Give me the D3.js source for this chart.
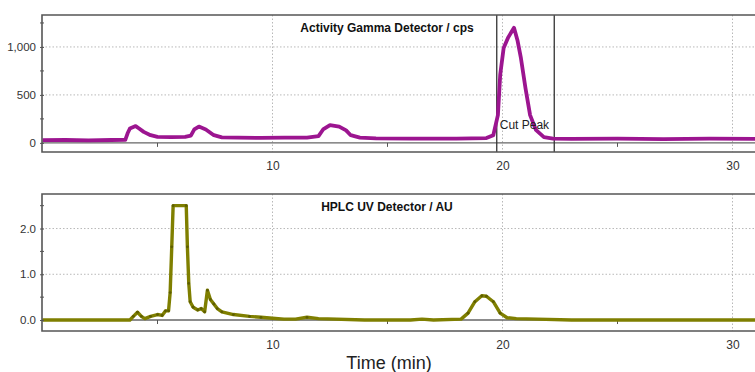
<!DOCTYPE html>
<html>
<head>
<meta charset="utf-8">
<script src="https://cdn.jsdelivr.net/npm/d3@7"></script>
<style>
  body { margin: 0; background: #fff; }
  svg { display: block; font-family: "Liberation Sans", Arial, sans-serif; }
</style>
</head>
<body>
<svg id="chart" width="755" height="372"></svg>
<script>
// time axis (min)
var xTicks = [10, 20, 30];
var xMinor = [5, 15, 25];

// gamma detector trace (cps)
var gammaTime = [0, 1, 2, 3, 3.6, 3.7, 3.8, 4.05, 4.2, 4.4, 4.7, 5.0, 5.6, 6.2, 6.45, 6.6, 6.8, 7.1, 7.45, 7.8, 8.5, 9.5, 10.5, 11.5, 12.0, 12.2, 12.5, 12.9, 13.2, 13.4, 13.8, 14.5, 16, 18, 19.3, 19.6, 19.8, 19.9, 20.05, 20.25, 20.5, 20.65, 20.8, 21.0, 21.2, 21.45, 21.8, 22.2, 23, 25, 27, 29, 31, 32];
var gammaCps  = [28, 30, 27, 30, 32, 100, 150, 175, 150, 115, 80, 62, 60, 62, 75, 140, 170, 140, 80, 58, 55, 52, 55, 55, 70, 140, 185, 170, 130, 80, 55, 48, 45, 45, 50, 80, 290, 710, 990, 1100, 1200, 1070, 885, 570, 290, 135, 60, 45, 42, 45, 40, 45, 42, 45];

// UV detector trace (AU)
var uvTime = [0, 2, 3.8, 3.95, 4.13, 4.3, 4.45, 4.7, 5.0, 5.2, 5.35, 5.48, 5.55, 5.62, 5.68, 6.25, 6.3, 6.36, 6.42, 6.55, 6.75, 6.9, 7.05, 7.17, 7.3, 7.45, 7.6, 7.8, 8.3, 9.0, 9.5, 10.0, 10.5, 11.0, 11.5, 12.0, 14, 16, 16.5, 17, 18.2, 18.5, 18.8, 19.1, 19.3, 19.6, 19.9, 20.2, 20.6, 21.5, 23, 26, 29, 32];
var uvAU   = [0, 0, 0, 0.08, 0.17, 0.08, 0.03, 0.08, 0.12, 0.1, 0.2, 0.2, 0.6, 1.6, 2.5, 2.5, 1.6, 0.8, 0.4, 0.28, 0.22, 0.25, 0.18, 0.65, 0.45, 0.35, 0.25, 0.18, 0.12, 0.08, 0.06, 0.04, 0.02, 0.02, 0.06, 0.03, 0.0, 0.0, 0.02, 0.0, 0.02, 0.15, 0.4, 0.53, 0.52, 0.4, 0.15, 0.05, 0.03, 0.02, 0.0, 0.0, 0.0, 0.0];

// cut peak window (min)
var cutStart = 19.75, cutEnd = 22.25;

var svg = d3.select("#chart");
var x = d3.scaleLinear().domain([0, 31.5]).range([42.5, 767]);

var panels = [
  { title: "Activity Gamma Detector / cps", top: 15, bottom: 152, domain: [-95, 1333],
    ticks: [0, 500, 1000], minor: [250, 750, 1250], fmt: d3.format(","), color: "#9c1590", width: 3.8,
    time: gammaTime, vals: gammaCps, titleY: 32, cut: true },
  { title: "HPLC UV Detector / AU", top: 194, bottom: 331, domain: [-0.24, 2.755],
    ticks: [0, 1, 2], minor: [0.5, 1.5, 2.5], fmt: d3.format(".1f"), color: "#7f7f00", width: 3.4,
    time: uvTime, vals: uvAU, titleY: 211, cut: false }
];

panels.forEach(function(p, i) {
  var y = d3.scaleLinear().domain(p.domain).range([p.bottom, p.top]);
  var g = svg.append("g");
  var clipId = "clip" + i;
  g.append("clipPath").attr("id", clipId).append("rect")
    .attr("x", 42).attr("y", p.top).attr("width", 760).attr("height", p.bottom - p.top);

  // dotted grid
  g.selectAll(".hgrid").data(p.ticks.filter(function(d) { return d !== 0; }))
    .enter().append("line")
    .attr("x1", 42).attr("x2", 755)
    .attr("y1", function(d) { return y(d); }).attr("y2", function(d) { return y(d); })
    .attr("stroke", "#b8b8b8").attr("stroke-width", 1).attr("stroke-dasharray", "1.5,2");
  g.selectAll(".vgrid").data(xTicks).enter().append("line")
    .attr("x1", function(d) { return x(d); }).attr("x2", function(d) { return x(d); })
    .attr("y1", p.top).attr("y2", p.bottom)
    .attr("stroke", "#b8b8b8").attr("stroke-width", 1).attr("stroke-dasharray", "1.5,2");

  // zero line
  g.append("line").attr("x1", 42).attr("x2", 755)
    .attr("y1", y(0)).attr("y2", y(0))
    .attr("stroke", "#666").attr("stroke-width", 1.3);

  // minor x ticks on zero line
  g.selectAll(".xminor").data(xMinor).enter().append("line")
    .attr("x1", function(d) { return x(d); }).attr("x2", function(d) { return x(d); })
    .attr("y1", y(0)).attr("y2", y(0) + 4)
    .attr("stroke", "#555").attr("stroke-width", 1);

  // cut peak lines
  if (p.cut) {
    [cutStart, cutEnd].forEach(function(t) {
      g.append("line").attr("x1", x(t)).attr("x2", x(t))
        .attr("y1", p.top).attr("y2", p.bottom)
        .attr("stroke", "#333").attr("stroke-width", 1.3);
    });
  }

  // trace
  var line = d3.line()
    .x(function(d, k) { return x(p.time[k]); })
    .y(function(d) { return y(d); });
  g.append("path").datum(p.vals)
    .attr("clip-path", "url(#" + clipId + ")")
    .attr("d", line)
    .attr("fill", "none").attr("stroke", p.color)
    .attr("stroke-width", p.width).attr("stroke-linejoin", "round");

  if (!p.cut) {
    // sample markers where the trace leaves the baseline
    g.selectAll(".dot").data(p.vals.map(function(v, k) { return [p.time[k], v]; })
        .filter(function(d) { return d[1] > 0.05; }))
      .enter().append("circle")
      .attr("cx", function(d) { return x(d[0]); })
      .attr("cy", function(d) { return y(d[1]); })
      .attr("r", 1.4).attr("fill", "#5e5e00");
  } else {
    g.append("text").attr("x", x(cutStart) + 3).attr("y", 129)
      .attr("font-size", 12).attr("fill", "#222").text("Cut Peak");
  }

  // frame
  g.append("path")
    .attr("d", "M760," + p.top + "H42V" + p.bottom + "H760")
    .attr("fill", "none").attr("stroke", "#555").attr("stroke-width", 1.6);

  // y axis
  var yAxis = d3.axisLeft(y).tickValues(p.ticks).tickFormat(p.fmt).tickSize(2).tickPadding(4);
  var ya = g.append("g").attr("transform", "translate(42,0)").call(yAxis);
  ya.select(".domain").remove();
  ya.selectAll("text").attr("font-size", 11.5).attr("fill", "#333")
    .attr("font-family", "Liberation Sans, Arial, sans-serif");
  ya.selectAll("line").attr("stroke", "#555").attr("x2", 2).attr("x1", -2);
  g.selectAll(".yminor").data(p.minor).enter().append("line")
    .attr("x1", 40).attr("x2", 44)
    .attr("y1", function(d) { return y(d); }).attr("y2", function(d) { return y(d); })
    .attr("stroke", "#555").attr("stroke-width", 1);

  // x axis labels
  var xAxis = d3.axisBottom(x).tickValues(xTicks).tickFormat(d3.format("d")).tickSize(0).tickPadding(9);
  var xa = g.append("g").attr("transform", "translate(0," + p.bottom + ")").call(xAxis);
  xa.select(".domain").remove();
  xa.selectAll("text").attr("font-size", 12).attr("fill", "#333")
    .attr("font-family", "Liberation Sans, Arial, sans-serif");

  // title
  g.append("text").attr("x", 387).attr("y", p.titleY)
    .attr("text-anchor", "middle").attr("font-size", 12).attr("font-weight", "bold")
    .attr("fill", "#111").text(p.title);
});

svg.append("text").attr("x", 389).attr("y", 369)
  .attr("text-anchor", "middle").attr("font-size", 18).attr("fill", "#222")
  .text("Time (min)");
</script>
</body>
</html>
